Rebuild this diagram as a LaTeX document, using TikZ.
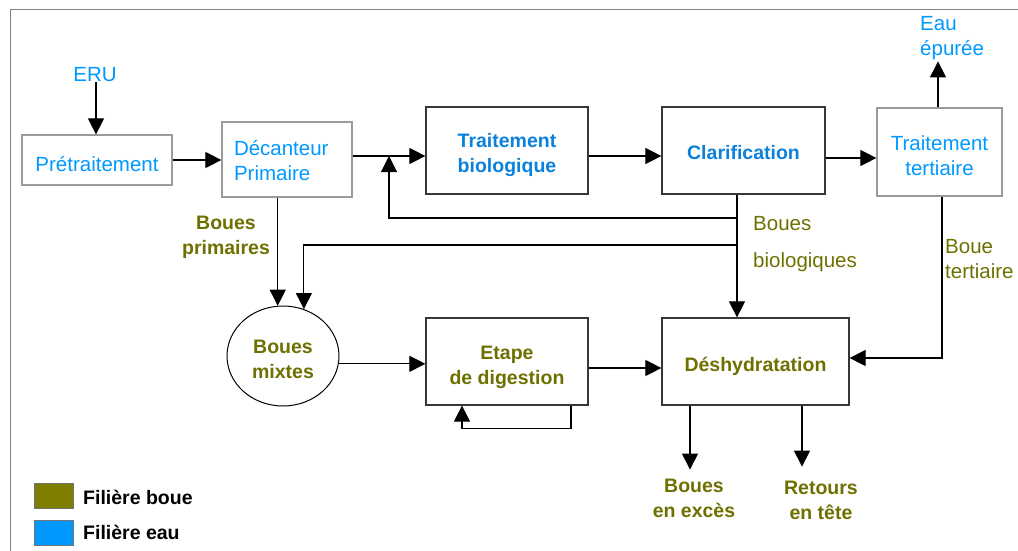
\documentclass[tikz,border=0pt]{standalone}
\usepackage{fontspec}
\setmainfont{Liberation Sans}
\usetikzlibrary{arrows.meta,shapes.geometric}
\definecolor{eau}{RGB}{0,153,255}
\definecolor{eaufonce}{RGB}{10,130,220}
\definecolor{boue}{RGB}{110,112,0}
\definecolor{bouefill}{RGB}{128,128,0}
\definecolor{cadre}{RGB}{130,130,130}
\definecolor{bordclair}{RGB}{155,155,155}
\definecolor{bordfonce}{RGB}{55,55,55}
% invisible strut that lowers the first line of a box label
\newcommand{\hautligne}[1]{\rule{0pt}{#1}}

\begin{document}
\begin{tikzpicture}[x=1pt,y=-1pt,
  txt/.style={font=\fontsize{20.5}{25}\selectfont, inner sep=0pt},
  bold/.style={font=\fontsize{19.5}{25}\selectfont\bfseries, inner sep=0pt},
  clair/.style={draw=bordclair, line width=1.2pt, rectangle, inner sep=0pt},
  fonce/.style={draw=bordfonce, line width=1.2pt, rectangle, inner sep=0pt},
  fleche/.style={draw=black, line width=1.1pt, -{Triangle[length=16pt,width=16pt]}},
  legende/.style={draw=black!55, line width=0.6pt, minimum width=39pt, minimum height=25pt, inner sep=0pt}]

\fill[white] (0,0) rectangle (1018,551);
\useasboundingbox (0,0) rectangle (1018,551);
\draw[cadre, line width=1pt] (10,551) -- (10,10) -- (1018,10);

% water line
\node[txt, text=eau] (eru) at (95,75) {ERU};
\node[clair, txt, text=eau, minimum width=150pt, minimum height=50pt] (pre) at (97,160) {\hautligne{23pt}Prétraitement};
\node[clair, txt, text=eau, minimum width=130pt, minimum height=75pt, text width=106pt, align=left] (dec) at (287,159.5) {\hautligne{17pt}Décanteur\\Primaire};
\node[fonce, bold, text=eaufonce, minimum width=162pt, minimum height=87pt, align=center] (bio) at (507,150.5) {\hautligne{24pt}Traitement\\biologique};
\node[fonce, bold, text=eaufonce, minimum width=163pt, minimum height=87pt] (cla) at (743.5,150.5) {\hautligne{18.5pt}Clarification};
\node[clair, txt, text=eau, minimum width=125pt, minimum height=88pt, align=center] (ter) at (939.5,152) {\hautligne{23pt}Traitement\\tertiaire};
\node[txt, text=eau, align=left, anchor=west] (eau) at (920,38.5) {Eau\\épurée};

% sludge line
\node[ellipse, draw=black, line width=1pt, bold, text=boue, minimum width=112pt, minimum height=100pt, align=center] (mix) at (283,356) {\hautligne{20pt}Boues\\mixtes};
\node[fonce, bold, text=boue, minimum width=162pt, minimum height=87pt, align=center] (dig) at (507,361.5) {\hautligne{26pt}Etape\\de digestion};
\node[fonce, bold, text=boue, minimum width=187pt, minimum height=87pt] (des) at (755.5,361.5) {\hautligne{24.5pt}Déshydratation};
\node[bold, text=boue, align=center] (exc) at (694,498.5) {Boues\\en excès};
\node[bold, text=boue, align=center] (ret) at (821,500.5) {Retours\\en tête};
\node[bold, text=boue, align=center] (bp) at (226,237.5) {Boues\\primaires};
\node[txt, text=boue, align=left, anchor=west] (bb) at (753,244) {Boues\\[12pt]biologiques};
\node[txt, text=boue, align=left, anchor=west] (bt) at (945,259.5) {Boue\\tertiaire};

% legend
\node[legende, fill=bouefill] (lb) at (53.5,495.5) {};
\node[legende, fill=eau] (le) at (53.5,532.5) {};
\node[font=\fontsize{19.5}{24}\selectfont\bfseries, anchor=west, inner sep=0pt] (lbt) at (83,497) {Filière boue};
\node[font=\fontsize{19.5}{24}\selectfont\bfseries, anchor=west, inner sep=0pt] (let) at (83,532) {Filière eau};

% junctions
\coordinate (j) at (389,156);
\coordinate (k) at (737,218);
\coordinate (m) at (737,245);

% connectors
\draw[fleche] ([xshift=1pt]eru.south) -- ([xshift=1pt]eru.south |- pre.north);
\draw[fleche] (pre.east) -- (pre.east -| dec.west);
\draw[fleche] (dec.east |- j) -- (bio.west |- j);
\draw[fleche] (bio.east |- j) -- (cla.west |- j);
\draw[fleche] ([yshift=-7.5pt]cla.east) -- ([yshift=-7.5pt]cla.east -| ter.west);
\draw[fleche] ([xshift=-1.5pt]ter.north) -- ++(0,-46);
\draw[fleche] (cla.south -| k) -- (des.north -| k);
\draw[fleche] (k) -| (j);
\draw[fleche] (m) -| (mix.66.8);
\draw[fleche] (mix.96.9 |- dec.south) -- (mix.96.9);
\draw[fleche] (mix.-8.2) -- (mix.-8.2 -| dig.west);
\draw[fleche] ([yshift=-6.5pt]dig.east) -- ([yshift=-6.5pt]dig.east -| des.west);
\draw[fleche] ([xshift=64pt]dig.south) -- ++(0,23) -| ([xshift=-45pt]dig.south);
\draw[fleche] ([xshift=2.5pt]ter.south) |- ([yshift=3.5pt]des.east);
\draw[fleche] ([xshift=-65.5pt]des.south) -- ++(0,64);
\draw[fleche] ([xshift=46.5pt]des.south) -- ++(0,61);
\end{tikzpicture}
\end{document}
